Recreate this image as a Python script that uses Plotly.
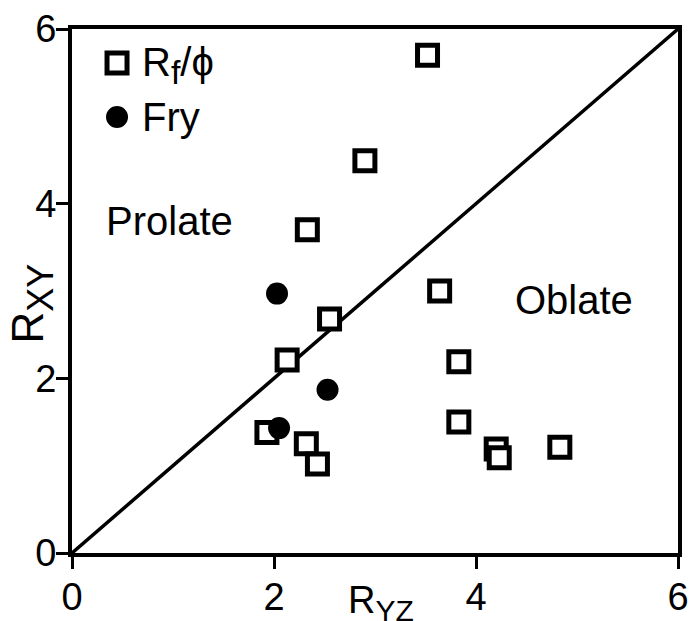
import plotly.graph_objects as go

# Rf/phi data (R_YZ, R_XY)
rf_ryz = [3.52, 2.90, 2.33, 2.55, 2.13, 1.93, 2.32, 2.43, 3.64, 3.83, 3.83, 4.20, 4.23, 4.83]
rf_rxy = [5.70, 4.49, 3.70, 2.68, 2.21, 1.38, 1.25, 1.02, 3.00, 2.19, 1.50, 1.19, 1.09, 1.21]

# Fry data
fry_ryz = [2.03, 2.53, 2.05]
fry_rxy = [2.97, 1.87, 1.43]

# Reference line R_XY = R_YZ
ref_line = [0, 6]

tick_vals = [0, 2, 4, 6]
tick_text = ["0", "2", "4", "6"]

FONT = "Liberation Sans, Arial, sans-serif"

fig = go.Figure()

fig.add_trace(go.Scatter(
    x=ref_line, y=ref_line, mode="lines",
    line=dict(color="black", width=3.5),
    showlegend=False, hoverinfo="skip",
))

fig.add_trace(go.Scatter(
    x=rf_ryz, y=rf_rxy, mode="markers", name="R<sub>f</sub>/\u03d5",
    marker=dict(symbol="square", size=20, color="white",
                line=dict(color="black", width=5)),
    showlegend=False,
))

fig.add_trace(go.Scatter(
    x=fry_ryz, y=fry_rxy, mode="markers", name="Fry",
    marker=dict(symbol="circle", size=22, color="black",
                line=dict(width=0)),
    showlegend=False,
))

axis_common = dict(
    range=[0, 6], tickvals=tick_vals, ticktext=tick_text,
    showgrid=False, zeroline=False, automargin=False,
    showline=True, linecolor="black", linewidth=4, mirror=True,
    ticks="outside", ticklen=12, tickwidth=3, tickcolor="black",
    tickfont=dict(family=FONT, size=38, color="black"),
)

fig.update_xaxes(**axis_common, ticklabelstandoff=-5)
fig.update_yaxes(**axis_common, ticklabelstandoff=-8)

# Region labels
fig.add_annotation(text="Prolate", x=0.97, y=3.80, xref="x", yref="y",
                   showarrow=False, font=dict(family=FONT, size=40, color="black"))
fig.add_annotation(text="Oblate", x=4.97, y=2.90, xref="x", yref="y",
                   showarrow=False, font=dict(family=FONT, size=40, color="black"))

# Axis titles
fig.add_annotation(text="R<sub><span style='font-size:30px'>YZ</span></sub>",
                   x=0.51, y=-0.045, xref="paper", yref="paper",
                   xanchor="center", yanchor="top",
                   showarrow=False, font=dict(family=FONT, size=38, color="black"))
fig.add_annotation(text="R<sub><span style='font-size:36px'>XY</span></sub>",
                   x=-0.066, y=0.476, xref="paper", yref="paper",
                   xanchor="center", yanchor="middle", textangle=-90,
                   showarrow=False, font=dict(family=FONT, size=44, color="black"))

# Manual legend (paper coordinates)
leg_x = 0.0743
leg_y1 = 0.935
leg_y2 = 0.832
fig.add_shape(type="rect", xref="paper", yref="paper",
              xsizemode="pixel", ysizemode="pixel",
              xanchor=leg_x, yanchor=leg_y1, x0=-10, x1=10, y0=-10, y1=10,
              line=dict(color="black", width=5), fillcolor="white")
fig.add_shape(type="circle", xref="paper", yref="paper",
              xsizemode="pixel", ysizemode="pixel",
              xanchor=leg_x, yanchor=leg_y2, x0=-11, x1=11, y0=-11, y1=11,
              line=dict(color="black", width=0), fillcolor="black")
fig.add_annotation(text="R<sub><span style='font-size:34px'>f</span></sub>/\u03d5",
                   x=0.113, y=leg_y1 - 0.004, xref="paper", yref="paper",
                   xanchor="left", yanchor="middle", showarrow=False,
                   font=dict(family=FONT, size=40, color="black"))
fig.add_annotation(text="Fry", x=0.113, y=leg_y2, xref="paper", yref="paper",
                   xanchor="left", yanchor="middle", showarrow=False,
                   font=dict(family=FONT, size=40, color="black"))

fig.update_layout(
    width=691, height=621,
    margin=dict(l=72, r=13, t=29, b=68, autoexpand=False),
    paper_bgcolor="white", plot_bgcolor="white",
    showlegend=False,
)

fig.write_html("out.html")
